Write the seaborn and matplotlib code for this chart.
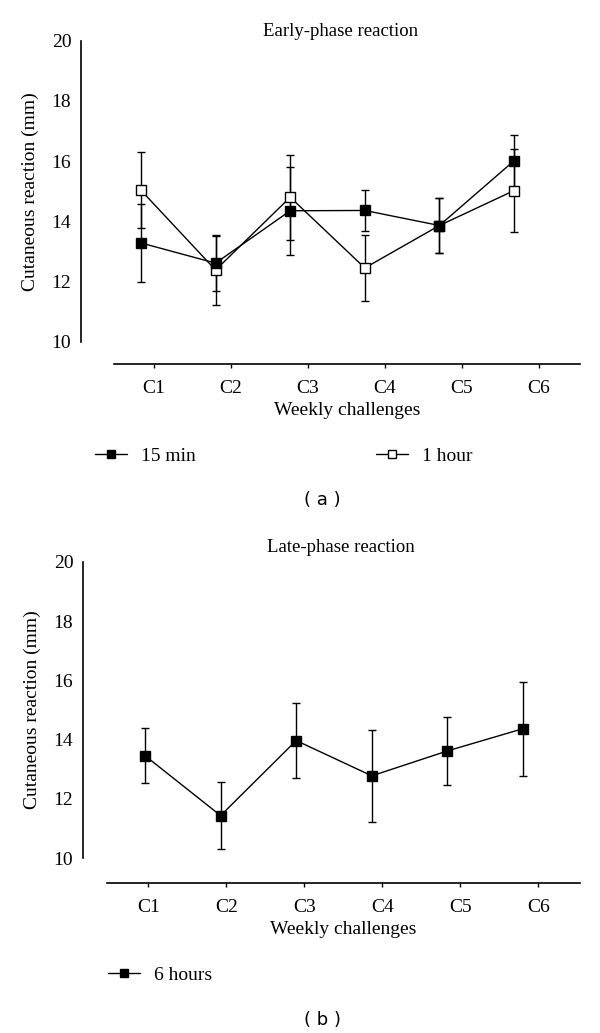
import pandas as pd
import matplotlib
matplotlib.use('Agg')
import matplotlib.pyplot as plt
import seaborn as sns

# --- Dados ---
desafios = ['C1', 'C2', 'C3', 'C4', 'C5', 'C6']

# Fase precoce (a)
media_15min = [13.28, 12.61, 14.35, 14.36, 13.86, 16.01]
dp_15min = [1.30, 0.91, 1.47, 0.69, 0.90, 0.87]
media_1h = [15.03, 12.38, 14.80, 12.45, 13.86, 15.02]
dp_1h = [1.26, 1.16, 1.41, 1.10, 0.90, 1.37]

# Fase tardia (b)
media_6h = [13.46, 11.44, 13.97, 12.78, 13.62, 14.37]
dp_6h = [0.93, 1.12, 1.27, 1.56, 1.16, 1.59]

sns.set_theme(style='white')
plt.rcParams['font.family'] = ['Liberation Serif', 'DejaVu Serif']
for chave in ['axes.edgecolor', 'text.color', 'axes.labelcolor',
              'xtick.color', 'ytick.color']:
    plt.rcParams[chave] = 'black'

W, H = 600, 1033
fig = plt.figure(figsize=(W / 100, H / 100), dpi=100)


def caixa(x0, x1, y_top, y_bot):
    """Converte pixels em fração da figura."""
    return [x0 / W, 1 - y_bot / H, (x1 - x0) / W, (y_bot - y_top) / H]


def painel(y20, y10, xeixo, px_pontos, passo_pontos, px_x0, px_ticks, passo_ticks,
           y_eixo_x, series, titulo, y_titulo):
    # eixo principal (dados)
    esq = xeixo
    ax = fig.add_axes(caixa(esq, 580, y20, y10))
    idx = list(range(len(desafios)))
    for nome, media, dp, cor_face in series:
        df = pd.DataFrame({'x': idx, 'y': media})
        ax.errorbar(idx, media, yerr=dp, fmt='none', ecolor='black',
                    elinewidth=1.0, capsize=3, capthick=1.0, zorder=2)
        sns.lineplot(data=df, x='x', y='y', ax=ax, color='black', linewidth=1.0,
                     marker='s', markersize=6.5, markerfacecolor=cor_face,
                     markeredgecolor='black', markeredgewidth=1.0, label=nome,
                     zorder=3)
    ax.set_xlim(-(px_pontos - esq) / passo_pontos,
                5 + (580 - (px_pontos + 5 * passo_pontos)) / passo_pontos)
    ax.set_ylim(10, 20)
    ax.set_yticks([10, 12, 14, 16, 18, 20])
    ax.tick_params(axis='y', length=0, pad=7, labelsize=14)
    ax.set_xticks([])
    ax.set_xlabel('')
    ax.set_ylabel('Cutaneous reaction (mm)', fontsize=14, labelpad=9)
    for lado in ['top', 'right', 'bottom']:
        ax.spines[lado].set_visible(False)
    ax.spines['left'].set_linewidth(1.2)
    ax.get_legend().remove()
    ax.patch.set_alpha(0)

    # eixo x separado (desalinhado como no original)
    axx = fig.add_axes(caixa(px_x0, 580, y_eixo_x - 1, y_eixo_x))
    axx.set_xlim(-(px_ticks - px_x0) / passo_ticks,
                 5 + (580 - (px_ticks + 5 * passo_ticks)) / passo_ticks)
    axx.set_xticks(idx)
    axx.set_xticklabels(desafios)
    axx.set_yticks([])
    axx.tick_params(axis='x', length=3, width=1, direction='out', pad=8,
                    labelsize=14, bottom=True)
    for lado in ['top', 'right', 'left']:
        axx.spines[lado].set_visible(False)
    axx.spines['bottom'].set_linewidth(1.2)
    axx.set_xlabel('Weekly challenges', fontsize=14, labelpad=4)
    axx.patch.set_alpha(0)

    fig.text(341 / W, 1 - y_titulo / H, titulo, ha='center', va='center', fontsize=13.5)
    return ax


ax_a = painel(40.7, 341.7, 81, 141, 74.6, 114, 154, 77, 364.3,
              [('1 hour', media_1h, dp_1h, 'white'),
               ('15 min', media_15min, dp_15min, 'black')],
              'Early-phase reaction', 31)

ax_b = painel(561.7, 858.3, 83, 145, 75.6, 107, 148.3, 78, 883.3,
              [('6 hours', media_6h, dp_6h, 'black')],
              'Late-phase reaction', 547)

# legendas
h, l = ax_a.get_legend_handles_labels()
fig.legend([h[1], h[0]], [l[1], l[0]], loc='center left',
           bbox_to_anchor=(95 / W, 1 - 456 / H), ncol=2, frameon=False,
           fontsize=14, handlelength=1.65, handletextpad=0.7, columnspacing=9.3,
           borderpad=0, borderaxespad=0, markerscale=0.85)
h, l = ax_b.get_legend_handles_labels()
fig.legend(h, l, loc='center left', bbox_to_anchor=(108 / W, 1 - 975 / H),
           frameon=False, fontsize=14, handlelength=1.65, handletextpad=0.7,
           borderpad=0, borderaxespad=0, markerscale=0.85)

fig.text(322 / W, 1 - 500 / H, '( a )', ha='center', va='center', fontsize=13,
         family='DejaVu Sans')
fig.text(322 / W, 1 - 1020 / H, '( b )', ha='center', va='center', fontsize=13,
         family='DejaVu Sans')

fig.savefig('out.png', dpi=100)
